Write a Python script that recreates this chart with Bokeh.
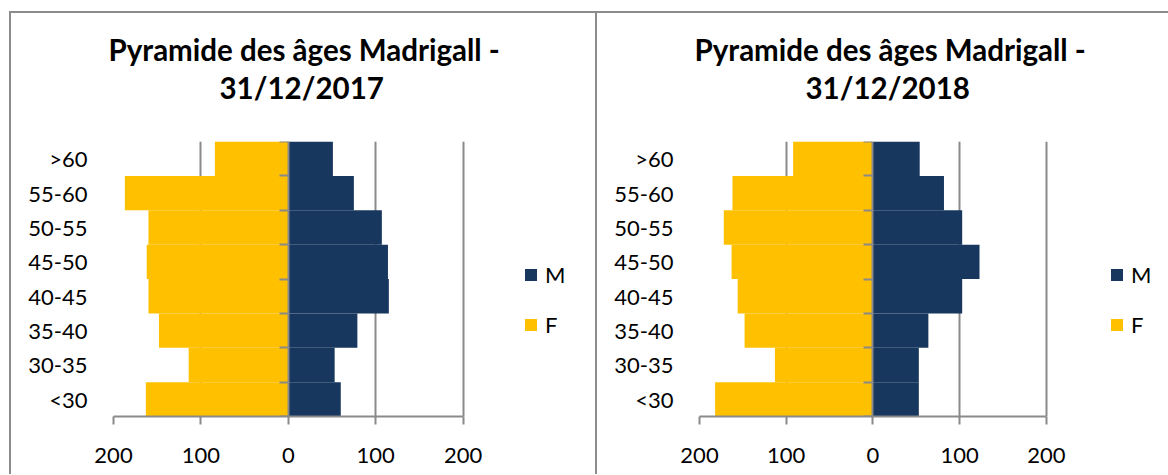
from bokeh.plotting import figure
from bokeh.layouts import row
from bokeh.models import (Range1d, FixedTicker, LinearAxis, Legend, LegendItem, Title,
                          CustomJSTickFormatter, ColumnDataSource)
from bokeh.embed import file_html
from bokeh.resources import INLINE

# ---- data -------------------------------------------------------------
categories = ["<30", "30-35", "35-40", "40-45", "45-50", "50-55", "55-60", ">60"]
f_2017 = [163, 114, 148, 160, 162, 160, 187, 84]
m_2017 = [60, 53, 79, 115, 114, 107, 75, 51]
f_2018 = [182, 113, 148, 156, 163, 172, 162, 92]
m_2018 = [53, 53, 64, 103, 123, 103, 82, 54]
x_ticks = [-200, -100, 0, 100, 200]
title_main = "Pyramide des âges Madrigall -"
dates = ["31/12/2017", "31/12/2018"]
series_names = ["M", "F"]

NAVY = "#17375E"
GOLD = "#FFC000"
GRAY = "#8A8A8A"
FONT = "Lato"
TXT = "#000000"


def make(date, f_vals, m_vals, first):
    n = len(categories)
    src = ColumnDataSource(dict(
        y=[i + 0.5 for i in range(n)],
        f_left=[-v for v in f_vals],
        m_right=m_vals,
        zero=[0] * n,
    ))
    # frame extends to the right (blank area that holds the legend)
    x_end = 356 if first else 341
    fw = 482 if first else 469
    p = figure(frame_width=fw, frame_height=273,
               x_range=Range1d(-200, x_end), y_range=Range1d(0, n),
               output_backend="svg", toolbar_location=None,
               min_border_left=102, min_border_right=0,
               min_border_top=128, min_border_bottom=60,
               title=None)
    p.outline_line_color = None
    p.background_fill_color = "white"
    p.border_fill_color = "white"

    rf = p.hbar(y="y", left="f_left", right="zero", height=1, source=src,
                fill_color=GOLD, line_color=None)
    rm = p.hbar(y="y", left="zero", right="m_right", height=1, source=src,
                fill_color=NAVY, line_color=None)

    # titles (first added = closest to the plot)
    spacer = Title(text=" ", text_font_size="1px", standoff=33)
    t2 = Title(text=date, align="left", offset=106, text_font=FONT, text_font_size="29.5px",
               text_font_style="bold", text_color=TXT, standoff=1)
    t1 = Title(text=title_main, align="left", offset=-5, text_font=FONT, text_font_size="29.5px",
               text_font_style="bold", text_color=TXT, standoff=1)
    p.add_layout(spacer, "above")
    p.add_layout(t2, "above")
    p.add_layout(t1, "above")

    # x axis
    xa = p.xaxis[0]
    xa.bounds = (-200, 200)
    xa.ticker = FixedTicker(ticks=x_ticks)
    xa.formatter = CustomJSTickFormatter(code="return Math.abs(tick).toString()")
    xa.axis_line_color = GRAY
    xa.axis_line_width = 2
    xa.major_tick_line_color = GRAY
    xa.major_tick_line_width = 2
    xa.major_tick_out = 8
    xa.major_tick_in = 0
    xa.minor_tick_line_color = None
    xa.major_label_text_font = FONT
    xa.major_label_text_font_size = "22px"
    xa.major_label_text_color = TXT
    xa.major_label_standoff = 23

    # y axis with category labels on the left
    ya = p.yaxis[0]
    ya.ticker = FixedTicker(ticks=[i + 0.5 for i in range(n)])
    ya.formatter = CustomJSTickFormatter(args=dict(cats=categories),
                                         code="return cats[Math.floor(tick)] || ''")
    ya.axis_line_color = None
    ya.major_tick_line_color = None
    ya.minor_tick_line_color = None
    ya.major_label_text_font = FONT
    ya.major_label_text_font_size = "22px"
    ya.major_label_text_color = TXT
    ya.major_label_standoff = 20

    # central axis at x=0 with ticks between categories
    cax = LinearAxis(fixed_location=0, ticker=FixedTicker(ticks=list(range(n + 1))),
                     formatter=CustomJSTickFormatter(code="return ''"),
                     axis_line_color=GRAY, axis_line_width=2,
                     major_tick_line_color=GRAY, major_tick_line_width=2,
                     major_tick_out=9, major_tick_in=0,
                     minor_tick_line_color=None, major_label_standoff=0)
    p.add_layout(cax, "left")

    p.ygrid.visible = False
    p.xgrid.ticker = FixedTicker(ticks=[t for t in x_ticks if t != 0])
    p.xgrid.grid_line_color = GRAY
    p.xgrid.grid_line_width = 2

    legend = Legend(items=[LegendItem(label=series_names[0], renderers=[rm]),
                           LegendItem(label=series_names[1], renderers=[rf])],
                    location=(410, 78), orientation="vertical",
                    border_line_color=None, background_fill_alpha=0,
                    padding=0, margin=0, glyph_width=15, glyph_height=15,
                    label_text_font=FONT, label_text_font_size="22px",
                    label_text_color=TXT, label_standoff=7, spacing=23)
    p.add_layout(legend, "center")

    b = "2px solid #8C8C8C"
    if first:
        p.styles = {"border-top": b, "border-left": b, "border-right": b}
        p.margin = (11, 0, 0, 9)
    else:
        p.styles = {"border-top": b}
        p.margin = (11, 0, 0, 0)
    return p


p1 = make(dates[0], f_2017, m_2017, True)
p2 = make(dates[1], f_2018, m_2018, False)
layout = row(p1, p2, spacing=0)

open("out.html", "w").write(file_html(layout, INLINE))
